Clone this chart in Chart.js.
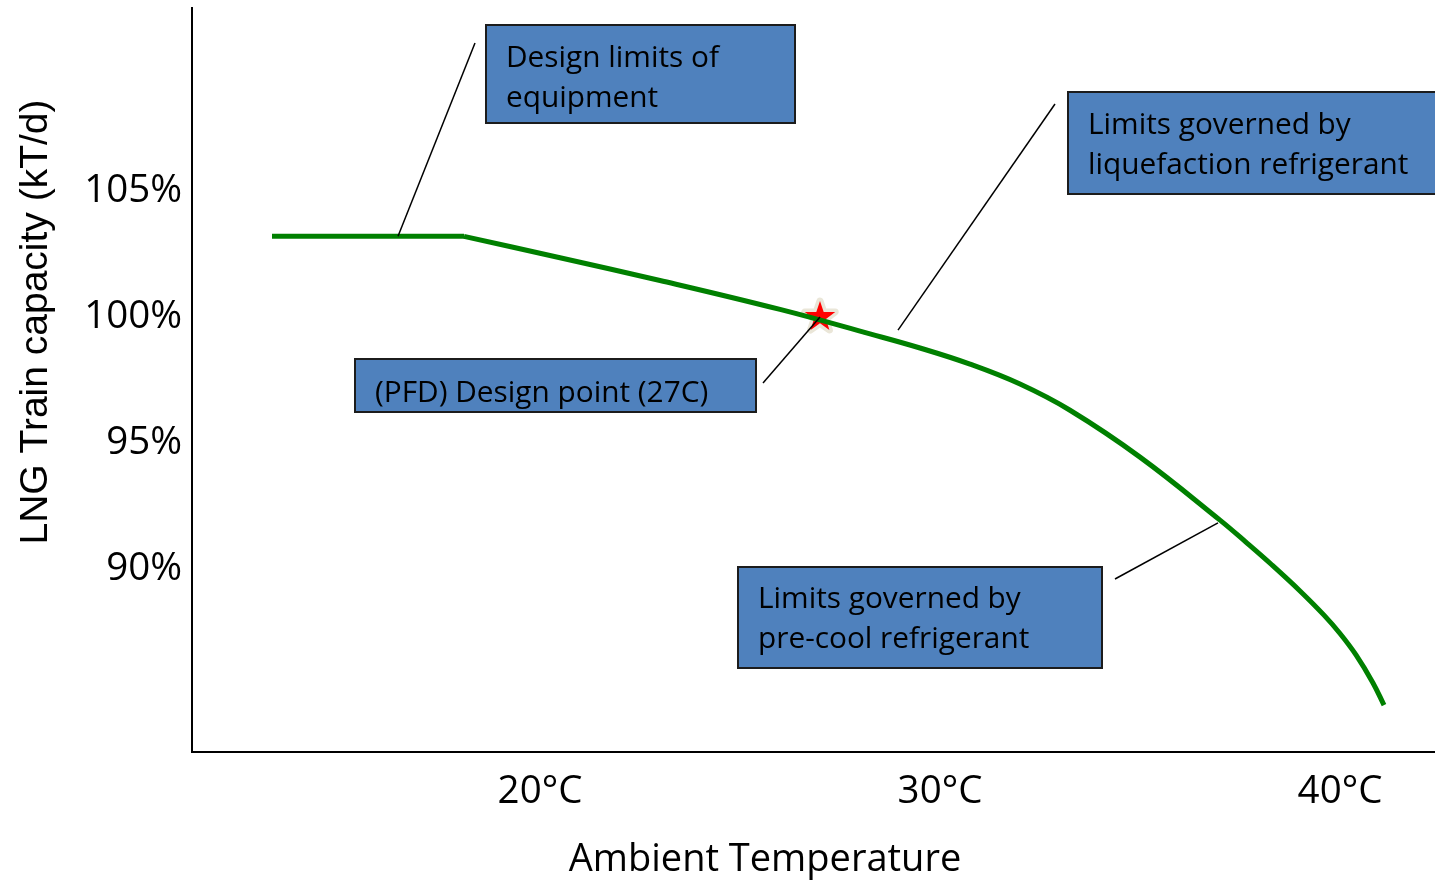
<!DOCTYPE html>
<html>
<head>
<meta charset="utf-8">
<title>LNG Train capacity vs Ambient Temperature</title>
<script src="https://cdn.jsdelivr.net/npm/chart.js@4.4.1/dist/chart.umd.min.js"></script>
<style>
  html, body { margin: 0; padding: 0; background: #ffffff; }
  #wrap { width: 1435px; height: 881px; }
</style>
</head>
<body>
<div id="wrap"><canvas id="chart" width="1435" height="881"></canvas></div>
<script>
// Ambient temperature (°C) along the capacity curve
const temperatures = [13.3, 18.1, 20.5, 23.0, 26.0, 28.25, 29.5, 30.75, 32.0, 33.25, 35.0, 37.0, 37.675, 38.3, 39.0, 39.6, 40.0, 40.4, 40.825, 41.1];
// LNG train capacity (% of design) at each temperature
const capacities = [103.2, 103.2, 102.35, 101.45, 100.3, 99.33, 98.77, 98.13, 97.34, 96.3, 94.44, 91.94, 91.03, 90.16, 89.13, 88.17, 87.44, 86.59, 85.48, 84.6];
// The curve is flat up to this index (equipment limit), then falls off
const flatEndIndex = 1;
// PFD design point
const designTemperature = 27;
const designCapacity = 100;

const xTickValues = [20, 30, 40];
const yTickValues = [90, 95, 100, 105];
const xTitle = 'Ambient Temperature';
const yTitle = 'LNG Train capacity (kT/d)';

// Callout texts and the point (°C, %) each leader line points to
const calloutLines = [
  ['Design limits of', 'equipment'],
  ['Limits governed by', 'liquefaction refrigerant'],
  ['(PFD) Design point (27C)'],
  ['Limits governed by', 'pre-cool refrigerant']
];
const calloutTargets = [[16.45, 103.2], [28.95, 99.48], [designTemperature, designCapacity], [36.95, 91.83]];

// Callout box placement on the canvas (px)
const calloutLayout = [
  { x: 486, y: 25, w: 309, h: 98, from: [475, 43], firstBaseline: 42 },
  { x: 1068, y: 92, w: 380, h: 102, from: [1055, 104], firstBaseline: 42 },
  { x: 355, y: 359, w: 401, h: 53, from: [763, 383], firstBaseline: 43 },
  { x: 738, y: 567, w: 364, h: 101, from: [1115, 579], firstBaseline: 41 }
];

const CALIBRI_LIKE = '"Open Sans", "Noto Sans", sans-serif';
const ARIAL_LIKE = '"Liberation Sans", Arial, sans-serif';

// Filled five-point star with a pale halo, used as the design point marker
function makeStar(outer, inner, fill, halo) {
  const pad = 6;
  const size = Math.ceil((outer + pad) * 2);
  const c = document.createElement('canvas');
  c.width = size; c.height = size;
  const g = c.getContext('2d');
  g.translate(size / 2, size / 2);
  g.beginPath();
  for (let k = 0; k < 10; k++) {
    const r = k % 2 ? inner : outer;
    const a = -Math.PI / 2 + k * Math.PI / 5;
    g.lineTo(r * Math.cos(a), r * Math.sin(a));
  }
  g.closePath();
  g.lineJoin = 'round';
  g.lineWidth = 7;
  g.strokeStyle = halo;
  g.stroke();
  g.fillStyle = fill;
  g.fill();
  return c;
}

const calloutPlugin = {
  id: 'callouts',
  afterDatasetsDraw(chart) {
    const { ctx, scales: { x, y } } = chart;
    ctx.save();
    // leader lines
    ctx.strokeStyle = '#000000';
    ctx.lineWidth = 1.5;
    calloutLayout.forEach((c, i) => {
      const [tx, ty] = calloutTargets[i];
      ctx.beginPath();
      ctx.moveTo(c.from[0], c.from[1]);
      ctx.lineTo(x.getPixelForValue(tx), y.getPixelForValue(ty));
      ctx.stroke();
    });
    // boxes with text
    ctx.font = '29.8px ' + CALIBRI_LIKE;
    ctx.textAlign = 'left';
    ctx.textBaseline = 'alphabetic';
    calloutLayout.forEach((c, i) => {
      ctx.fillStyle = '#4F81BD';
      ctx.fillRect(c.x, c.y, c.w, c.h);
      ctx.strokeStyle = '#1c1c1c';
      ctx.lineWidth = 2;
      ctx.strokeRect(c.x, c.y, c.w, c.h);
      ctx.fillStyle = '#000000';
      calloutLines[i].forEach((line, j) => {
        ctx.fillText(line, c.x + 20, c.y + c.firstBaseline + j * 40);
      });
    });
    ctx.restore();
  },
  afterDraw(chart) {
    const { ctx } = chart;
    ctx.save();
    ctx.fillStyle = '#000000';
    ctx.textAlign = 'center';
    ctx.textBaseline = 'alphabetic';
    ctx.font = '38px ' + CALIBRI_LIKE;
    ctx.fillText(xTitle, 765, 871);
    ctx.translate(47, 322);
    ctx.rotate(-Math.PI / 2);
    ctx.font = '39px ' + ARIAL_LIKE;
    ctx.fillText(yTitle, 0, 0);
    ctx.restore();
  }
};

const tickFont = { family: CALIBRI_LIKE, size: 38.5 };
const points = temperatures.map((t, i) => ({ x: t, y: capacities[i] }));
const lineStyle = { borderColor: '#008000', borderWidth: 5, pointRadius: 0, fill: false, order: 0 };

// keep the plot area flush with the axes: no extra room for edge labels
function noEdgePadding(scale) {
  scale.paddingLeft = 0; scale.paddingRight = 0;
  scale.paddingTop = 0; scale.paddingBottom = 0;
}

new Chart(document.getElementById('chart'), {
  type: 'line',
  data: {
    datasets: [
      Object.assign({
        label: 'Equipment design limit',
        data: points.slice(0, flatEndIndex + 1),
        tension: 0
      }, lineStyle),
      Object.assign({
        label: 'Refrigerant limited capacity',
        data: points.slice(flatEndIndex),
        tension: 0.4
      }, lineStyle),
      {
        label: 'Design point',
        data: [{ x: designTemperature, y: designCapacity }],
        showLine: false,
        pointStyle: makeStar(16, 6.3, '#FF0000', '#EAE6D8'),
        pointRadius: 16,
        order: 1
      }
    ]
  },
  options: {
    responsive: false,
    animation: false,
    layout: { autoPadding: false, padding: { top: 8, right: 0, bottom: 0, left: 0 } },
    plugins: {
      legend: { display: false },
      tooltip: { enabled: false }
    },
    scales: {
      x: {
        type: 'linear',
        min: 11.3,
        max: 42.375,
        afterBuildTicks: (scale) => { scale.ticks = xTickValues.map(v => ({ value: v })); },
        afterFit: (scale) => { scale.height = 129; noEdgePadding(scale); },
        ticks: {
          callback: (v) => v + '°C',
          font: tickFont,
          color: '#000000',
          padding: 17,
          maxRotation: 0,
          autoSkip: false
        },
        grid: { display: false, drawTicks: false },
        border: { display: true, color: '#000000', width: 2 }
      },
      y: {
        type: 'linear',
        min: 82.74,
        max: 112.26,
        afterBuildTicks: (scale) => { scale.ticks = yTickValues.map(v => ({ value: v })); },
        afterFit: (scale) => { scale.width = 192; noEdgePadding(scale); },
        ticks: {
          callback: (v) => v + '%',
          font: tickFont,
          color: '#000000',
          padding: 10,
          autoSkip: false
        },
        grid: { display: false, drawTicks: false },
        border: { display: true, color: '#000000', width: 2 }
      }
    }
  },
  plugins: [calloutPlugin]
});
</script>
</body>
</html>
